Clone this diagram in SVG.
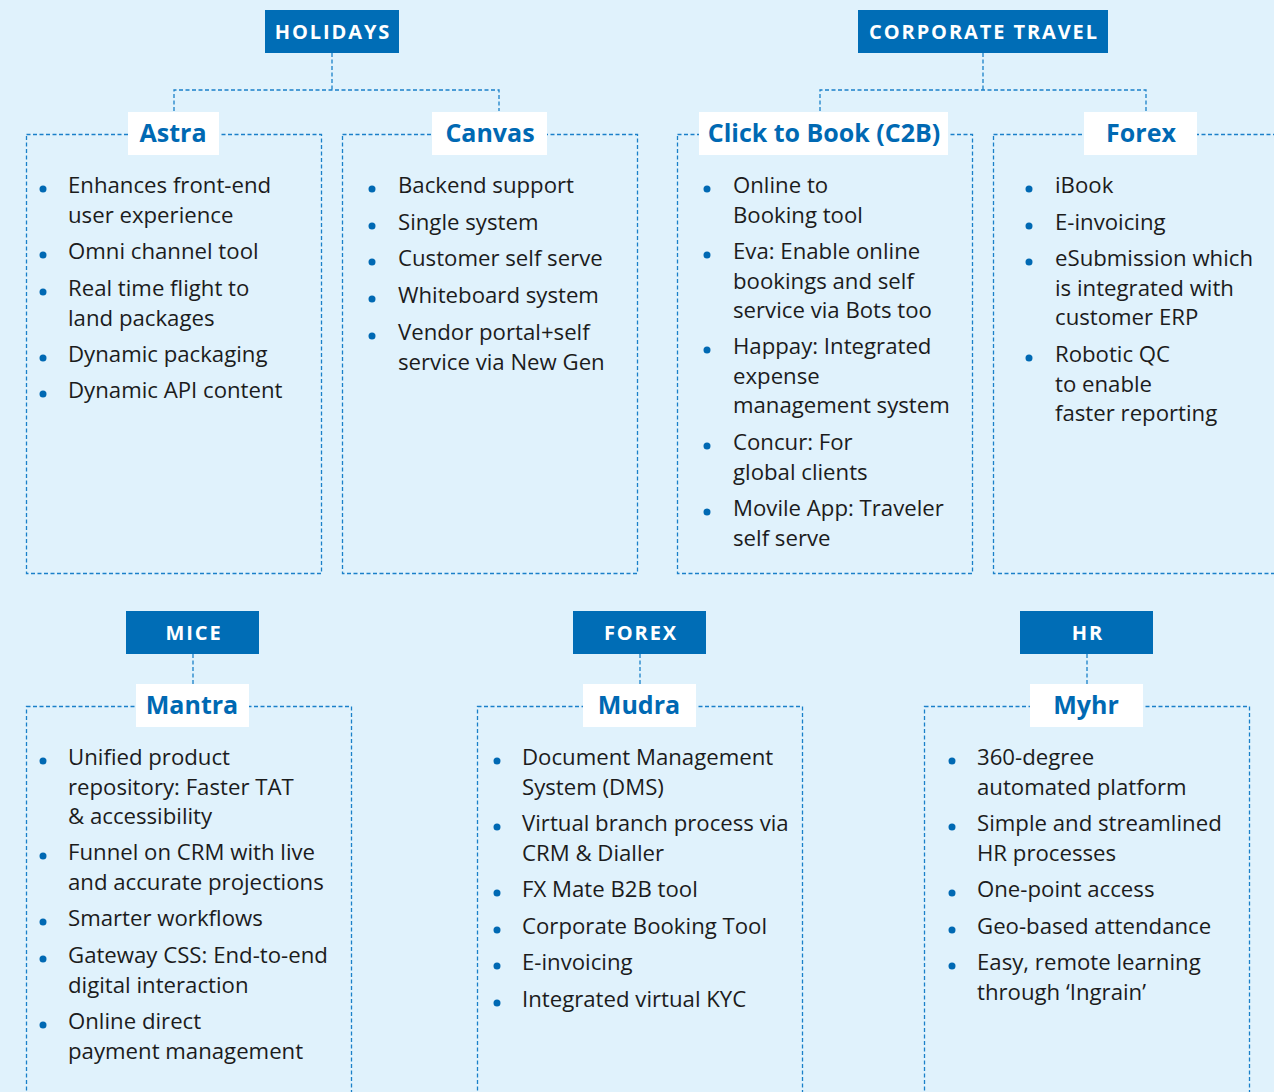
<svg xmlns="http://www.w3.org/2000/svg" width="1274" height="1092" viewBox="0 0 1274 1092">
<style>
.bg{fill:#E0F2FC}
.hdr{fill:#006DB6}
.hdrt{fill:#fff;font-family:"Open Sans","Noto Sans",sans-serif;font-weight:700;font-size:20px;letter-spacing:1.9px;text-anchor:middle}
.box{fill:none;stroke:#1A80C9;stroke-width:1.3;stroke-dasharray:4 2.5}
.conn{fill:none;stroke:#1A80C9;stroke-width:1.3;stroke-dasharray:4 2.5}
.lab{fill:#fff}
.labt{fill:#0069B3;font-family:"Open Sans","Noto Sans",sans-serif;font-weight:700;font-size:25px;text-anchor:middle}
.it{fill:#1c1c1c;font-family:"Open Sans","Noto Sans",sans-serif;font-size:22.2px}
.bul{fill:#0069B3}
</style>
<rect class="bg" width="1274" height="1092"/>

<g id="connectors">
<path class="conn" d="M332 53V90M174 111V90H499V111"/>
<path class="conn" d="M983 53V90M820 111V90H1146V111"/>
<path class="conn" d="M193 654V684"/>
<path class="conn" d="M640 654V684"/>
<path class="conn" d="M1087 654V684"/>
</g>

<g id="holidays"><rect class="hdr" x="265" y="10" width="134" height="43"/><text class="hdrt" x="333" y="39">HOLIDAYS</text></g>
<g id="corporate-travel"><rect class="hdr" x="858" y="10" width="250" height="43"/><text class="hdrt" x="984" y="39">CORPORATE TRAVEL</text></g>
<g id="mice"><rect class="hdr" x="126" y="611" width="133" height="43"/><text class="hdrt" x="194" y="640">MICE</text></g>
<g id="forex-hdr"><rect class="hdr" x="573" y="611" width="133" height="43"/><text class="hdrt" x="641" y="640">FOREX</text></g>
<g id="hr"><rect class="hdr" x="1020" y="611" width="133" height="43"/><text class="hdrt" x="1088" y="640">HR</text></g>

<g id="astra">
<rect class="box" x="26.5" y="134.5" width="295" height="439"/>
<rect class="lab" x="128" y="112" width="91" height="43"/>
<text class="labt" x="173" y="142">Astra</text>
<circle class="bul" cx="43" cy="189" r="3.5"/><text class="it" x="68" y="193">Enhances front-end<tspan x="68" dy="29.5">user experience</tspan></text>
<circle class="bul" cx="43" cy="255" r="3.5"/><text class="it" x="68" y="259">Omni channel tool</text>
<circle class="bul" cx="43" cy="292" r="3.5"/><text class="it" x="68" y="296">Real time flight to<tspan x="68" dy="29.5">land packages</tspan></text>
<circle class="bul" cx="43" cy="358" r="3.5"/><text class="it" x="68" y="362">Dynamic packaging</text>
<circle class="bul" cx="43" cy="394" r="3.5"/><text class="it" x="68" y="398">Dynamic API content</text>
</g>

<g id="canvas">
<rect class="box" x="342.5" y="134.5" width="295" height="439"/>
<rect class="lab" x="432" y="112" width="115" height="43"/>
<text class="labt" x="490" y="142">Canvas</text>
<circle class="bul" cx="372" cy="189" r="3.5"/><text class="it" x="398" y="193">Backend support</text>
<circle class="bul" cx="372" cy="226" r="3.5"/><text class="it" x="398" y="230">Single system</text>
<circle class="bul" cx="372" cy="262" r="3.5"/><text class="it" x="398" y="266">Customer self serve</text>
<circle class="bul" cx="372" cy="299" r="3.5"/><text class="it" x="398" y="303">Whiteboard system</text>
<circle class="bul" cx="372" cy="336" r="3.5"/><text class="it" x="398" y="340">Vendor portal+self<tspan x="398" dy="29.5">service via New Gen</tspan></text>
</g>

<g id="c2b">
<rect class="box" x="677.5" y="134.5" width="295" height="439"/>
<rect class="lab" x="699" y="112" width="249" height="43"/>
<text class="labt" x="824" y="142">Click to Book (C2B)</text>
<circle class="bul" cx="707" cy="189" r="3.5"/><text class="it" x="733" y="193">Online to<tspan x="733" dy="29.5">Booking tool</tspan></text>
<circle class="bul" cx="707" cy="255" r="3.5"/><text class="it" x="733" y="259">Eva: Enable online<tspan x="733" dy="29.5">bookings and self</tspan><tspan x="733" dy="29.5">service via Bots too</tspan></text>
<circle class="bul" cx="707" cy="350" r="3.5"/><text class="it" x="733" y="354">Happay: Integrated<tspan x="733" dy="29.5">expense</tspan><tspan x="733" dy="29.5">management system</tspan></text>
<circle class="bul" cx="707" cy="446" r="3.5"/><text class="it" x="733" y="450">Concur: For<tspan x="733" dy="29.5">global clients</tspan></text>
<circle class="bul" cx="707" cy="512" r="3.5"/><text class="it" x="733" y="516">Movile App: Traveler<tspan x="733" dy="29.5">self serve</tspan></text>
</g>

<g id="forex">
<rect class="box" x="993.5" y="134.5" width="295" height="439"/>
<rect class="lab" x="1084" y="112" width="113" height="43"/>
<text class="labt" x="1141" y="142">Forex</text>
<circle class="bul" cx="1029" cy="189" r="3.5"/><text class="it" x="1055" y="193">iBook</text>
<circle class="bul" cx="1029" cy="226" r="3.5"/><text class="it" x="1055" y="230">E-invoicing</text>
<circle class="bul" cx="1029" cy="262" r="3.5"/><text class="it" x="1055" y="266">eSubmission which<tspan x="1055" dy="29.5">is integrated with</tspan><tspan x="1055" dy="29.5">customer ERP</tspan></text>
<circle class="bul" cx="1029" cy="358" r="3.5"/><text class="it" x="1055" y="362">Robotic QC<tspan x="1055" dy="29.5">to enable</tspan><tspan x="1055" dy="29.5">faster reporting</tspan></text>
</g>

<g id="mantra">
<rect class="box" x="26.5" y="706.5" width="325" height="400"/>
<rect class="lab" x="136" y="684" width="113" height="43"/>
<text class="labt" x="192" y="714">Mantra</text>
<circle class="bul" cx="43" cy="761" r="3.5"/><text class="it" x="68" y="765">Unified product<tspan x="68" dy="29.5">repository: Faster TAT</tspan><tspan x="68" dy="29.5">&amp; accessibility</tspan></text>
<circle class="bul" cx="43" cy="856" r="3.5"/><text class="it" x="68" y="860">Funnel on CRM with live<tspan x="68" dy="29.5">and accurate projections</tspan></text>
<circle class="bul" cx="43" cy="922" r="3.5"/><text class="it" x="68" y="926">Smarter workflows</text>
<circle class="bul" cx="43" cy="959" r="3.5"/><text class="it" x="68" y="963">Gateway CSS: End-to-end<tspan x="68" dy="29.5">digital interaction</tspan></text>
<circle class="bul" cx="43" cy="1025" r="3.5"/><text class="it" x="68" y="1029">Online direct<tspan x="68" dy="29.5">payment management</tspan></text>
</g>

<g id="mudra">
<rect class="box" x="477.5" y="706.5" width="325" height="400"/>
<rect class="lab" x="583" y="684" width="113" height="43"/>
<text class="labt" x="639" y="714">Mudra</text>
<circle class="bul" cx="497" cy="761" r="3.5"/><text class="it" x="522" y="765">Document Management<tspan x="522" dy="29.5">System (DMS)</tspan></text>
<circle class="bul" cx="497" cy="827" r="3.5"/><text class="it" x="522" y="831">Virtual branch process via<tspan x="522" dy="29.5">CRM &amp; Dialler</tspan></text>
<circle class="bul" cx="497" cy="893" r="3.5"/><text class="it" x="522" y="897">FX Mate B2B tool</text>
<circle class="bul" cx="497" cy="930" r="3.5"/><text class="it" x="522" y="934">Corporate Booking Tool</text>
<circle class="bul" cx="497" cy="966" r="3.5"/><text class="it" x="522" y="970">E-invoicing</text>
<circle class="bul" cx="497" cy="1003" r="3.5"/><text class="it" x="522" y="1007">Integrated virtual KYC</text>
</g>

<g id="myhr">
<rect class="box" x="924.5" y="706.5" width="325" height="400"/>
<rect class="lab" x="1030" y="684" width="113" height="43"/>
<text class="labt" x="1086" y="714">Myhr</text>
<circle class="bul" cx="952" cy="761" r="3.5"/><text class="it" x="977" y="765">360-degree<tspan x="977" dy="29.5">automated platform</tspan></text>
<circle class="bul" cx="952" cy="827" r="3.5"/><text class="it" x="977" y="831">Simple and streamlined<tspan x="977" dy="29.5">HR processes</tspan></text>
<circle class="bul" cx="952" cy="893" r="3.5"/><text class="it" x="977" y="897">One-point access</text>
<circle class="bul" cx="952" cy="930" r="3.5"/><text class="it" x="977" y="934">Geo-based attendance</text>
<circle class="bul" cx="952" cy="966" r="3.5"/><text class="it" x="977" y="970">Easy, remote learning<tspan x="977" dy="29.5">through ‘Ingrain’</tspan></text>
</g>
</svg>
